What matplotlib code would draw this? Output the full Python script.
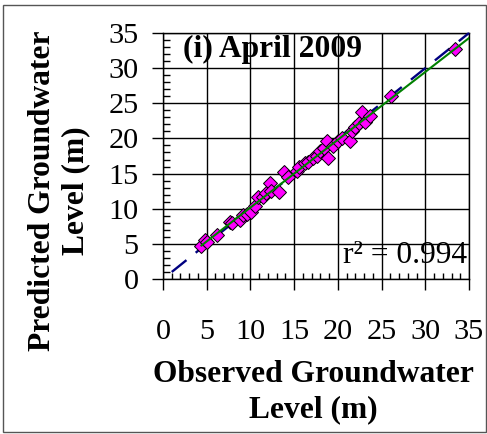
import matplotlib
matplotlib.use("Agg")
import matplotlib.pyplot as plt
import numpy as np
from matplotlib.patches import Rectangle
from matplotlib.ticker import MultipleLocator

# ---- data ----
observed = [4.4, 4.8, 5.0, 6.2, 7.7, 7.9, 8.8, 9.2, 9.6, 10.1, 10.5, 10.9, 11.4,
            11.8, 12.2, 12.4, 13.3, 13.8, 14.3, 15.3, 15.6, 16.2, 16.6, 17.2,
            17.6, 18.0, 18.4, 18.8, 18.9, 19.5, 20.0, 20.5, 21.4, 21.6, 22.0,
            22.4, 22.8, 23.1, 23.7, 26.1, 33.4]
predicted = [4.7, 5.5, 5.2, 6.2, 8.1, 7.9, 8.4, 9.1, 9.3, 9.6, 10.4, 11.7, 11.6,
             12.2, 13.6, 12.5, 12.4, 15.2, 14.5, 15.4, 16.0, 16.5, 16.7, 17.2,
             17.5, 18.2, 18.7, 19.6, 17.2, 18.9, 19.6, 20.1, 19.7, 21.1, 21.6,
             22.2, 23.8, 22.4, 23.2, 26.0, 32.7]
one_to_one = [1, 35]
ticks = [0, 5, 10, 15, 20, 25, 30, 35]
title_text = "(i) April 2009"
r2_text = "r\u00b2 = 0.994"
xlabel = "Observed Groundwater\nLevel (m)"
ylabel = "Predicted Groundwater\nLevel (m)"

plt.rcParams['font.family'] = ['Liberation Serif', 'DejaVu Serif']
FS_TICK = 21.8
FS_TXT = 22.7
W, H = 487, 434
fig = plt.figure(figsize=(W / 100, H / 100), dpi=100)
ax = fig.add_axes([163 / W, 1 - 279 / H, (469 - 163) / W, (279 - 33) / H])

ax.set_xlim(0, 35)
ax.set_ylim(0, 35)
ax.set_xticks(ticks)
ax.set_yticks(ticks)
ax.xaxis.set_minor_locator(MultipleLocator(1))
ax.yaxis.set_minor_locator(MultipleLocator(1))
ax.grid(True, which='major', color='black', linewidth=1.0)
ax.set_axisbelow(True)
for s in ax.spines.values():
    s.set_linewidth(1.0)
    s.set_color('black')

ax.tick_params(which='major', direction='out', length=7.6, width=1.0,
               labelsize=FS_TICK, top=False, right=False)
ax.tick_params(axis='x', which='major', pad=21)
ax.tick_params(axis='y', which='major', pad=10)
ax.tick_params(which='minor', direction='in', width=1.0,
               top=False, right=False)
ax.tick_params(axis='x', which='minor', length=4.0)
ax.tick_params(axis='y', which='minor', length=5.2)

# 1:1 line
ax.plot(one_to_one, one_to_one, color='#000080', linewidth=1.7,
        dashes=(8, 5), zorder=3, clip_on=False)

# points
ax.plot(observed, predicted, linestyle='none', marker='D', markersize=7.3,
        markerfacecolor='#FF00FF', markeredgecolor='black',
        markeredgewidth=0.7, zorder=4)

# fit line
b, a = np.polyfit(observed, predicted, 1)
fx = np.array([min(observed), 35])
ax.plot(fx, a + b * fx, color='#008000', linewidth=1.5, zorder=5)

ax.text(2.3, 32.6, title_text, fontsize=FS_TXT, fontweight='bold',
        ha='left', va='center', zorder=6)
ax.text(34.8, 3.35, r2_text, fontsize=FS_TXT, ha='right', va='center', zorder=6)

fig.text(313 / W, 1 - 392 / H, xlabel, fontsize=FS_TXT, fontweight='bold',
         ha='center', va='center', multialignment='center', linespacing=1.26)
fig.text(59 / W, 1 - 191 / H, ylabel, fontsize=FS_TXT, fontweight='bold',
         ha='center', va='center', multialignment='center', rotation=90,
         linespacing=1.22)

fig.patches.append(Rectangle((3 / W, 1 - 432 / H), (486 - 3) / W, (432 - 5) / H,
                             transform=fig.transFigure, fill=False,
                             edgecolor='#555555', linewidth=1.0))

fig.savefig('out.png', dpi=100)
